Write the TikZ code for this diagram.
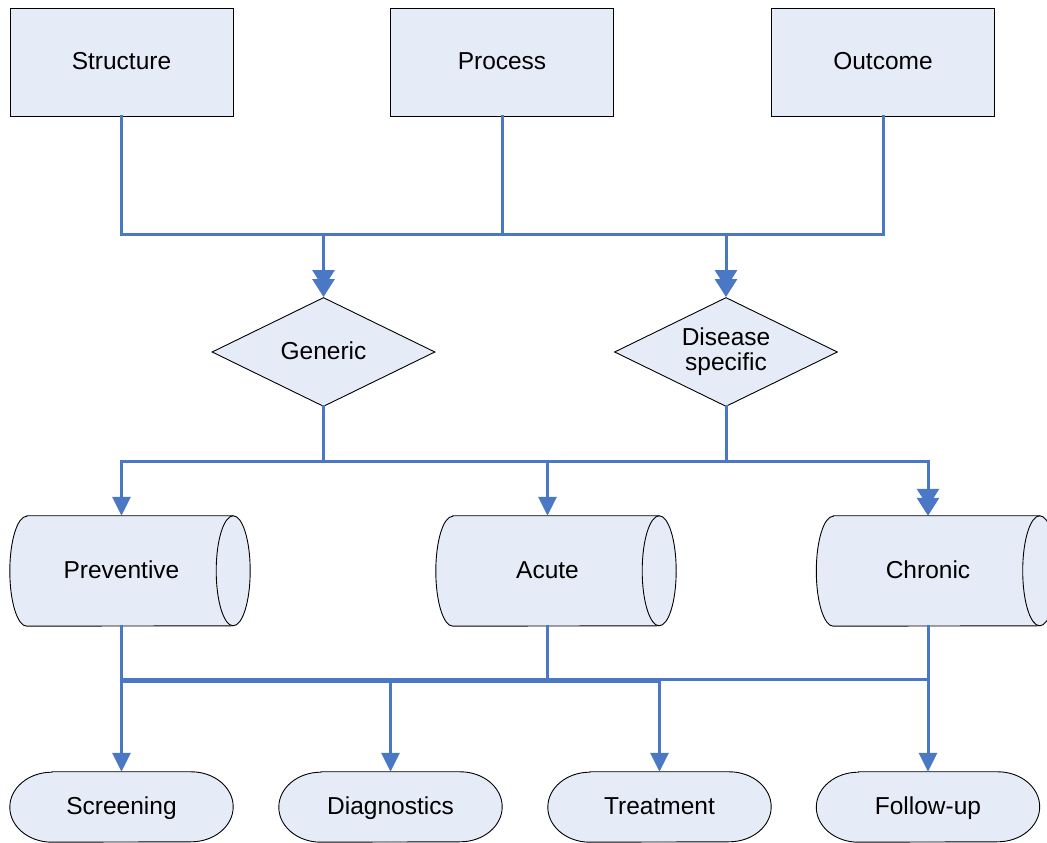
\documentclass[tikz,border=0pt]{standalone}
\usepackage{fontspec}
\setmainfont{Liberation Sans}
\usetikzlibrary{shapes.geometric,arrows.meta,calc}

\definecolor{linkblue}{HTML}{4A78C4}
\definecolor{boxfill}{HTML}{E6ECF7}

\tikzset{
  txt/.style={font=\fontsize{24.5}{25}\selectfont, text=black},
  lbl/.style={txt, text height=20.5pt, text depth=5pt, inner sep=0pt},
  rectbox/.style={lbl, draw=black, line width=0.9pt, fill=boxfill,
    minimum width=223pt, minimum height=108pt},
  decision/.style={diamond, draw=black, line width=0.9pt, fill=boxfill,
    minimum width=223pt, minimum height=109pt, inner sep=0pt},
  cylbody/.style={minimum width=223pt, minimum height=110pt, inner sep=0pt},
  termbody/.style={minimum width=223pt, minimum height=70pt, inner sep=0pt},
  outline/.style={draw=black, line width=0.9pt, fill=boxfill},
  link/.style={draw=linkblue, line width=3pt, line cap=rect, line join=miter},
  arrowone/.style={draw=linkblue, line width=3pt,
    -{Triangle[width=18pt,length=19pt]}},
  arrowtwo/.style={draw=linkblue, line width=3pt,
    -{Triangle[width=22pt,length=18pt,sep=-9pt]Triangle[width=22pt,length=18pt]}},
}

% horizontal cylinder: left end curved outwards, right end drawn as a full ellipse
\newcommand{\cylout}[1]{%
  \path[outline] ($(#1.north west)+(17,0)$) -- (#1.north east)
    arc[start angle=90, end angle=-90, x radius=17, y radius=55]
    -- ($(#1.south west)+(17,0)$)
    arc[start angle=270, end angle=90, x radius=17, y radius=55] -- cycle;
  \draw[black, line width=0.9pt] (#1.north east)
    arc[start angle=90, end angle=270, x radius=17, y radius=55];
}
% terminator with elliptical ends
\newcommand{\termout}[1]{%
  \path[outline] ($(#1.north west)+(42,0)$) -- ($(#1.north east)+(-42,0)$)
    arc[start angle=90, end angle=-90, x radius=42, y radius=35]
    -- ($(#1.south west)+(42,0)$)
    arc[start angle=270, end angle=90, x radius=42, y radius=35] -- cycle;
}

\begin{document}
\begin{tikzpicture}[x=1pt,y=1pt]
  \useasboundingbox (0,0) rectangle (1047,843);
  \clip (0,0) rectangle (1047,843);

  % top level boxes
  \node[rectbox] (structure) at (121.5,781) {Structure};
  \node[rectbox] (process)   at (502,781)   {Process};
  \node[rectbox] (outcome)   at (883,781)   {Outcome};

  % decisions
  \node[decision] (generic) at (323.5,491) {};
  \node[decision] (disease) at (726,491) {};
  \node[lbl] (generictxt) at (generic) {Generic};
  \node[txt, align=center] (diseasetxt) at (disease) {Disease\\specific};

  % cylinders
  \path (121.5,272) coordinate (pc) (547.5,272) coordinate (ac) (928,272) coordinate (cc);
  \node[cylbody] (prev)  at (pc) {};
  \node[cylbody] (acute) at (ac) {};
  \node[cylbody] (chron) at (cc) {};
  \cylout{prev}
  \cylout{acute}
  \cylout{chron}
  \node[lbl] (prevtxt)  at (prev)  {Preventive};
  \node[lbl] (acutetxt) at (acute) {Acute};
  \node[lbl] (chrontxt) at (chron) {Chronic};

  % terminators
  \node[termbody] (screen) at (121.5,36) {};
  \node[termbody] (diag)   at (390.5,36) {};
  \node[termbody] (treat)  at (659.5,36) {};
  \node[termbody] (follow) at (928,36)   {};
  \termout{screen}
  \termout{diag}
  \termout{treat}
  \termout{follow}
  \node[lbl] (screentxt) at (screen) {Screening};
  \node[lbl] (diagtxt)   at (diag)   {Diagnostics};
  \node[lbl] (treattxt)  at (treat)  {Treatment};
  \node[lbl] (followtxt) at (follow) {Follow-up};

  % bus levels
  \coordinate (busa) at (0,608);
  \coordinate (busb) at (0,381);
  \coordinate (busc) at (0,163);

  % top bus
  \draw[link] (structure.south) -- (structure.south |- busa)
    -- (outcome.south |- busa) -- (outcome.south);
  \draw[link] (process.south) -- (process.south |- busa);
  \draw[arrowtwo] (generic.north |- busa) -- (generic.north);
  \draw[arrowtwo] (disease.north |- busa) -- (disease.north);

  % middle bus
  \draw[link] (generic.south) -- (generic.south |- busb);
  \draw[link] (disease.south) -- (disease.south |- busb);
  \draw[link] (prev.north |- busb) -- (chron.north |- busb);
  \draw[arrowone] (prev.north |- busb) -- (prev.north);
  \draw[arrowone] (acute.north |- busb) -- (acute.north);
  \draw[arrowtwo] (chron.north |- busb) -- (chron.north);

  % bottom bus
  \draw[link] (prev.south) -- (prev.south |- busc);
  \draw[link] (acute.south) -- (acute.south |- busc);
  \draw[link] (chron.south) -- (chron.south |- busc);
  \draw[link] (screen.north |- busc) -- (follow.north |- busc);
  \draw[link] ($(screen.north |- busc)+(0,-2)$) -- ($(treat.north |- busc)+(0,-2)$);
  \draw[arrowone] (screen.north |- busc) -- (screen.north);
  \draw[arrowone] (diag.north |- busc) -- (diag.north);
  \draw[arrowone] (treat.north |- busc) -- (treat.north);
  \draw[arrowone] (follow.north |- busc) -- (follow.north);
\end{tikzpicture}
\end{document}
